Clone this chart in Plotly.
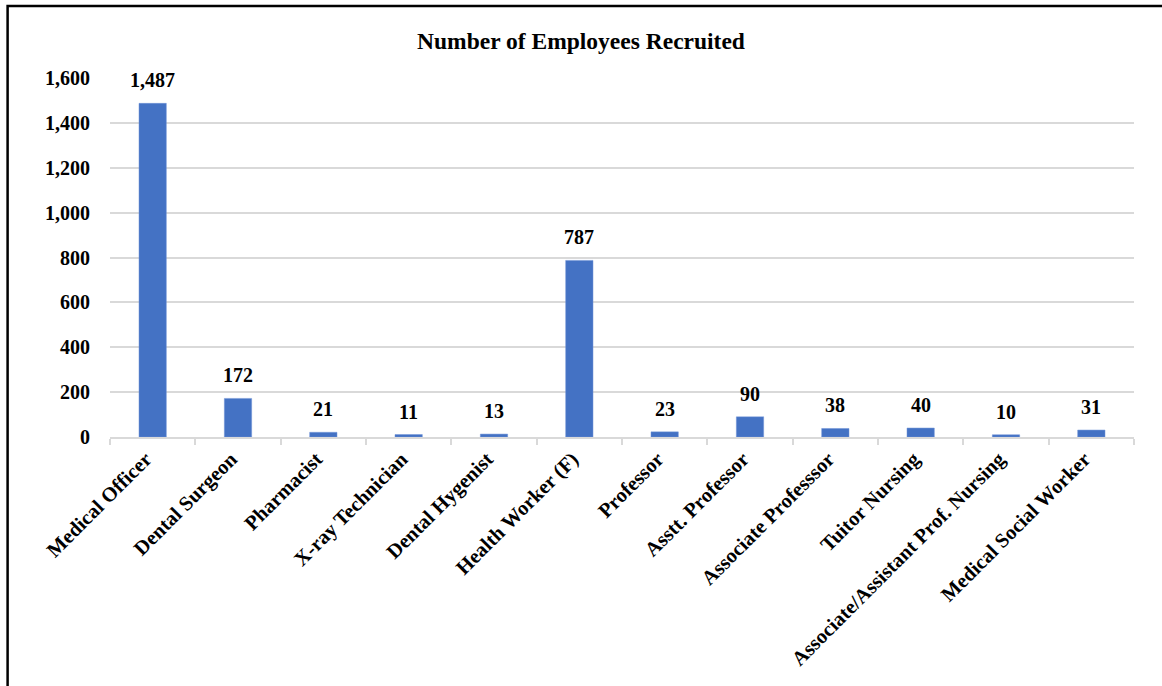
import plotly.graph_objects as go

categories = ["Medical Officer", "Dental Surgeon", "Pharmacist", "X-ray Technician",
              "Dental Hygenist", "Health Worker (F)", "Professor", "Asstt. Professor",
              "Associate Professsor", "Tuitor Nursing", "Associate/Assistant Prof. Nursing",
              "Medical Social Worker"]
values = [1487, 172, 21, 11, 13, 787, 23, 90, 38, 40, 10, 31]
y_ticks = [0, 200, 400, 600, 800, 1000, 1200, 1400, 1600]

FONT = "Liberation Serif, Times New Roman, serif"

fig = go.Figure(go.Bar(
    x=categories, y=values,
    marker=dict(color="#4472C4", line=dict(color="#6f93d6", width=0.5)),
    cliponaxis=False,
))

for c, v in zip(categories, values):
    fig.add_annotation(x=c, y=v, text=f"<b>{v:,}</b>", showarrow=False,
                       yanchor="bottom", yshift=10,
                       font=dict(family=FONT, size=20, color="black"))

fig.update_layout(
    width=1162, height=686,
    margin=dict(l=110, r=28, t=78, b=249),
    paper_bgcolor="white", plot_bgcolor="white",
    bargap=0.68,
    showlegend=False,
    title=dict(text="<b>Number of Employees Recruited</b>", x=0.5, xref="container",
               y=0.9405, yref="container", xanchor="center", yanchor="middle",
               font=dict(family=FONT, size=23.5, color="black")),
    font=dict(family=FONT, color="black"),
)
fig.update_xaxes(
    tickangle=-45, tickfont=dict(family=FONT, size=20.5, color="black"),
    showline=True, linecolor="#d9d9d9", linewidth=2,
    ticks="outside", tickson="boundaries", ticklen=6, tickcolor="#d9d9d9", tickwidth=2,
    showgrid=False, ticklabelshift=-7,
    tickprefix="<b>", ticksuffix="</b>",
)
fig.update_yaxes(
    range=[0, 1600], tickvals=y_ticks, ticktext=[f"<b>{v:,}</b>" for v in y_ticks],
    tickfont=dict(family=FONT, size=20, color="black"),
    showgrid=True, gridcolor="#d9d9d9", gridwidth=1.5,
    zeroline=False, ticklabelstandoff=19,
)
fig.add_shape(type="rect", xref="paper", yref="paper",
              x0=-0.1, x1=1.1, y0=-1.0, y1=1.2004,
              line=dict(color="black", width=2.5), layer="above")

fig.write_html("out.html", config={"displayModeBar": False},
               post_script="document.body.style.margin='0';")
